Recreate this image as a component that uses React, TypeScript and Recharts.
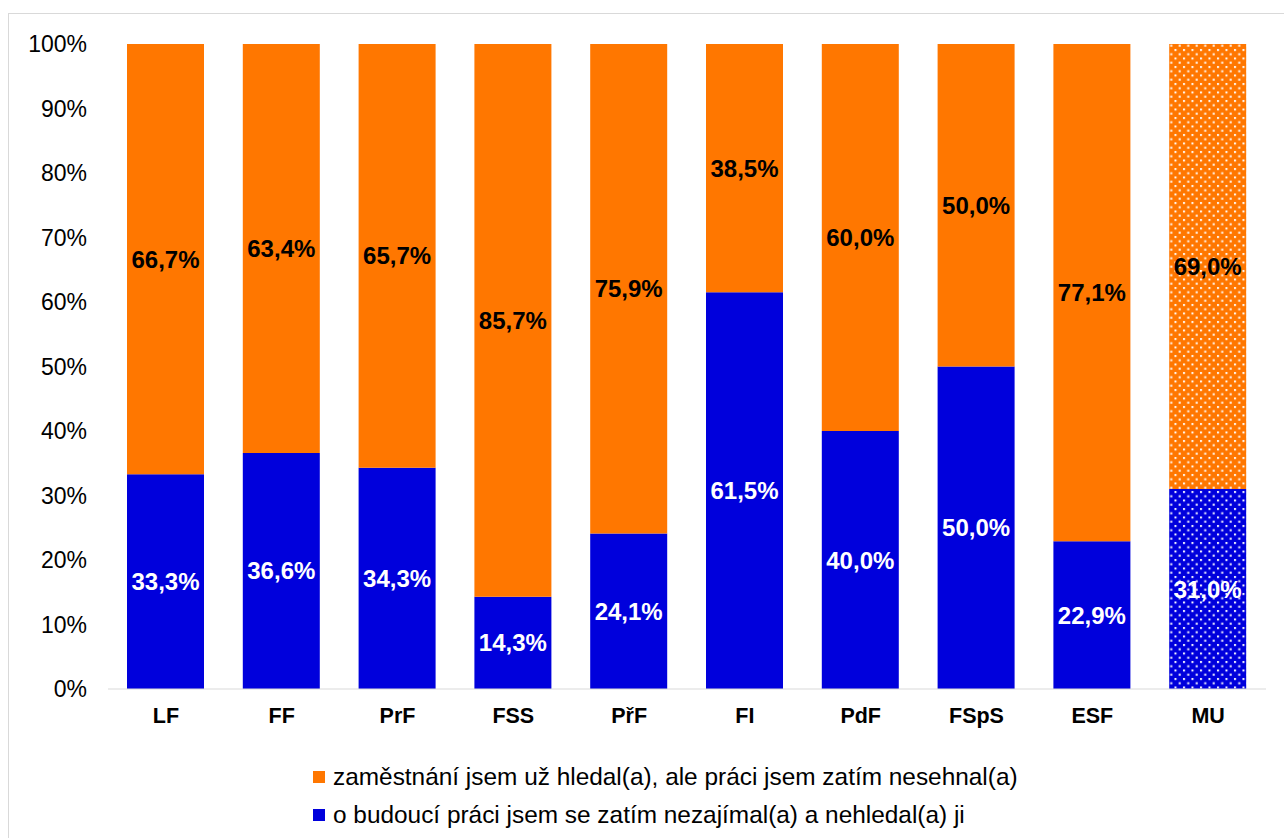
import { BarChart, Bar, XAxis, YAxis, Cell, LabelList } from 'recharts'

const categories = ['LF', 'FF', 'PrF', 'FSS', 'PřF', 'FI', 'PdF', 'FSpS', 'ESF', 'MU']
const notLooking = [33.3, 36.6, 34.3, 14.3, 24.1, 61.5, 40.0, 50.0, 22.9, 31.0]
const searching = [66.7, 63.4, 65.7, 85.7, 75.9, 38.5, 60.0, 50.0, 77.1, 69.0]
const yTicks = [0, 10, 20, 30, 40, 50, 60, 70, 80, 90, 100]

const seriesNames = {
  searching: 'zaměstnání jsem už hledal(a), ale práci jsem zatím nesehnal(a)',
  notLooking: 'o budoucí práci jsem se zatím nezajímal(a) a nehledal(a) ji',
}

const ORANGE = '#FF7700'
const BLUE = '#0000DC'
const FONT = '"Liberation Sans", Arial, sans-serif'

const data = categories.map((name, i) => ({
  name,
  notLooking: notLooking[i],
  searching: searching[i],
}))

const fmt = (v: any) => `${Number(v).toFixed(1).replace('.', ',')}%`

// legend drawn as plain html under the plot
function LegendBox() {
  const items = [
    { label: seriesNames.searching, color: ORANGE },
    { label: seriesNames.notLooking, color: BLUE },
  ]
  return (
    <div style={{ position: 'absolute', left: 304, top: 744, fontFamily: FONT, fontSize: 24.4, color: '#000' }}>
      {items.map(it => (
        <div key={it.label} style={{ display: 'flex', alignItems: 'center', height: 38, whiteSpace: 'nowrap' }}>
          <div style={{ width: 12, height: 12, background: it.color, marginRight: 8 }} />
          <span>{it.label}</span>
        </div>
      ))}
    </div>
  )
}

export default function App() {
  return (
    <div
      style={{
        position: 'absolute',
        left: 8,
        top: 13,
        width: 1290,
        height: 840,
        border: '1px solid #d9d9d9',
        background: '#fff',
      }}
    >
      <BarChart
        width={1276}
        height={830}
        data={data}
        margin={{ top: 30, right: 19, bottom: 115, left: 0 }}
        barSize={77}
      >
        <defs>
          <pattern id="dotsOrange" width="8.5" height="8.5" patternUnits="userSpaceOnUse">
            <rect width="8.5" height="8.5" fill={ORANGE} />
            <rect x="1" y="1" width="2" height="2" fill="#fff" />
            <rect x="5.25" y="5.25" width="2" height="2" fill="#fff" />
          </pattern>
          <pattern id="dotsBlue" width="8.5" height="8.5" patternUnits="userSpaceOnUse">
            <rect width="8.5" height="8.5" fill={BLUE} />
            <rect x="1" y="1" width="2" height="2" fill="#fff" />
            <rect x="5.25" y="5.25" width="2" height="2" fill="#fff" />
          </pattern>
        </defs>
        <XAxis
          dataKey="name"
          height={40}
          tickLine={false}
          tickSize={0}
          tickMargin={19}
          axisLine={{ stroke: '#d9d9d9', strokeWidth: 1 }}
          tick={{ fill: '#000', fontSize: 21.5, fontWeight: 'bold', fontFamily: FONT }}
        />
        <YAxis
          width={99}
          domain={[0, 100]}
          ticks={yTicks}
          tickFormatter={(v: number) => `${v}%`}
          axisLine={false}
          tickLine={false}
          tickSize={0}
          tickMargin={21}
          tick={{ fill: '#000', fontSize: 23, fontFamily: FONT }}
        />
        <Bar dataKey="notLooking" stackId="a" fill={BLUE} isAnimationActive={false}>
          {data.map((d, i) => (
            <Cell key={d.name} fill={i === data.length - 1 ? 'url(#dotsBlue)' : BLUE} />
          ))}
          <LabelList
            dataKey="notLooking"
            position="center"
            formatter={fmt}
            style={{ fill: '#fff', fontSize: 24, fontWeight: 'bold', fontFamily: FONT }}
          />
        </Bar>
        <Bar dataKey="searching" stackId="a" fill={ORANGE} isAnimationActive={false}>
          {data.map((d, i) => (
            <Cell key={d.name} fill={i === data.length - 1 ? 'url(#dotsOrange)' : ORANGE} />
          ))}
          <LabelList
            dataKey="searching"
            position="center"
            formatter={fmt}
            style={{ fill: '#000', fontSize: 24, fontWeight: 'bold', fontFamily: FONT }}
          />
        </Bar>
      </BarChart>
      <LegendBox />
    </div>
  )
}
